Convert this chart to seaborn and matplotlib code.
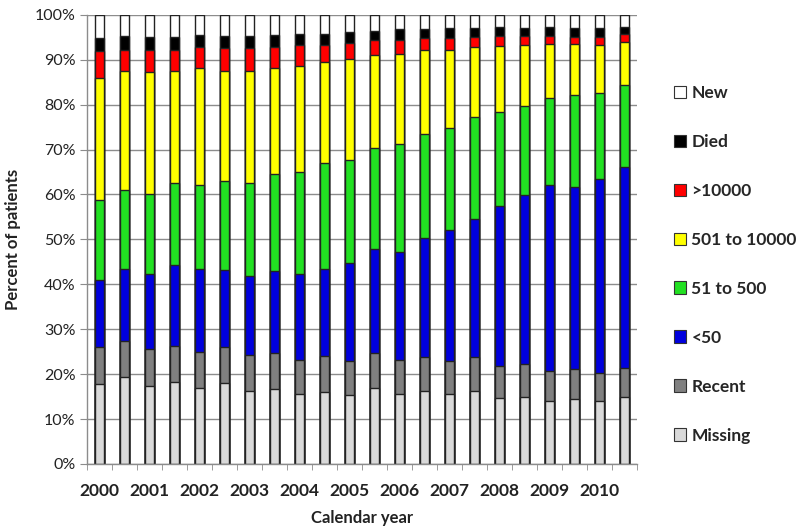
import numpy as np
import pandas as pd
import matplotlib.pyplot as plt
import seaborn as sns
from matplotlib.patches import Patch
from matplotlib.ticker import PercentFormatter, MultipleLocator

# two bars per calendar year, 2000 to 2010
periods = [f"{y}{h}" for y in range(2000, 2011) for h in ("a", "b")]
years = [str(y) for y in range(2000, 2011)]

# percent of patients in each group (bottom to top)
missing = [17.9, 19.3, 17.3, 18.3, 16.8, 18.1, 16.2, 16.7, 15.5, 16.0, 15.3,
           17.0, 15.5, 16.3, 15.5, 16.3, 14.7, 15.0, 14.0, 14.5, 14.0, 15.0]
recent = [8.1, 8.0, 8.2, 8.0, 8.2, 7.9, 8.0, 8.1, 7.7, 8.0, 7.6,
          7.8, 7.7, 7.4, 7.4, 7.4, 7.2, 7.2, 6.8, 6.6, 6.3, 6.3]
lt50 = [14.9, 16.2, 16.7, 18.0, 18.5, 17.2, 17.6, 18.1, 19.0, 19.5, 21.8,
        23.1, 24.0, 26.6, 29.2, 30.8, 35.6, 37.6, 41.3, 40.5, 43.1, 44.9]
r51_500 = [17.9, 17.5, 17.8, 18.2, 18.7, 19.7, 20.7, 21.6, 22.8, 23.6, 23.0,
           22.4, 24.0, 23.2, 22.6, 22.8, 20.9, 20.0, 19.4, 20.6, 19.3, 18.2]
r501_10000 = [27.1, 26.4, 27.2, 24.9, 26.0, 24.7, 25.1, 23.7, 23.7, 22.3, 22.5,
              20.7, 20.0, 18.7, 17.5, 15.5, 14.6, 13.5, 12.0, 11.3, 10.6, 9.6]
gt10000 = [6.0, 4.8, 5.0, 4.8, 4.6, 5.0, 5.0, 4.6, 4.6, 3.9, 3.6,
           3.3, 3.3, 2.6, 2.6, 2.3, 2.3, 2.0, 1.8, 1.6, 1.8, 1.7]
died = [2.9, 3.1, 2.9, 2.9, 2.7, 2.7, 2.7, 2.7, 2.5, 2.5, 2.5,
        2.2, 2.3, 2.0, 2.3, 2.0, 2.0, 1.8, 2.0, 2.0, 2.0, 1.6]
new = [5.2, 4.7, 4.9, 4.9, 4.5, 4.7, 4.7, 4.5, 4.2, 4.2, 3.7,
       3.5, 3.2, 3.2, 2.9, 2.9, 2.7, 2.9, 2.7, 2.9, 2.9, 2.7]

groups = ["Missing", "Recent", "<50", "51 to 500", "501 to 10000", ">10000", "Died", "New"]
colors = ["#d9d9d9", "#808080", "#0000dd", "#22e022", "#ffff00", "#ff0000", "#000000", "#ffffff"]

df = pd.DataFrame({"period": periods, "Missing": missing, "Recent": recent, "<50": lt50,
                   "51 to 500": r51_500, "501 to 10000": r501_10000, ">10000": gt10000,
                   "Died": died, "New": new})
df[groups] = df[groups].div(df[groups].sum(axis=1), axis=0) * 100
cum = df[groups].cumsum(axis=1)
cum["period"] = df["period"]

sns.set_style("white")
plt.rcParams["font.family"] = ["Lato", "DejaVu Sans"]

fig = plt.figure(figsize=(8, 5.32), dpi=100)
ax = fig.add_axes([0.109, 0.128, 0.687, 0.844])

# stacked bars: draw cumulative totals from the top group down
for g, c in reversed(list(zip(groups, colors))):
    sns.barplot(data=cum, x="period", y=g, order=periods, color=c, saturation=1,
                edgecolor="#222222", linewidth=1.0, width=0.38, ax=ax)

ax.set_xlim(-0.5, 21.5)
ax.set_ylim(0, 100)
ax.yaxis.set_major_locator(MultipleLocator(10))
ax.yaxis.set_major_formatter(PercentFormatter(decimals=0))
ax.grid(axis="y", color="#8c8c8c", linewidth=1)
ax.set_axisbelow(True)

ax.set_xticks(range(0, 22, 2))
ax.set_xticklabels(years, fontsize=12.5, fontweight="bold", color="#222222")
ax.set_xticks(np.arange(-0.5, 22, 1), minor=True)
ax.tick_params(axis="x", which="major", length=0, pad=14)
ax.tick_params(axis="x", which="minor", length=4, color="#8c8c8c", direction="out")
ax.tick_params(axis="y", length=5, color="#8c8c8c", direction="out", labelsize=11.5,
               labelcolor="#222222")
ax.tick_params(bottom=True, left=True, which="both")

for s in ["top", "right"]:
    ax.spines[s].set_visible(False)
for s in ["left", "bottom"]:
    ax.spines[s].set_color("#8c8c8c")
    ax.spines[s].set_linewidth(1)

ax.set_xlabel("Calendar year", fontsize=12, fontweight="bold", color="#222222", labelpad=8)
ax.set_ylabel("Percent of patients", fontsize=12, fontweight="bold", color="#222222", labelpad=10)

handles = [Patch(facecolor=c, edgecolor="#333333", linewidth=0.8, label=g)
           for g, c in zip(groups, colors)][::-1]
ax.legend(handles=handles, loc="upper left", bbox_to_anchor=(1.055, 0.86), frameon=False,
          prop={"weight": "bold", "size": 12.5}, labelspacing=1.9,
          handlelength=0.7, handleheight=0.7, handletextpad=0.3, borderaxespad=0)

fig.savefig("out.png", dpi=100)
